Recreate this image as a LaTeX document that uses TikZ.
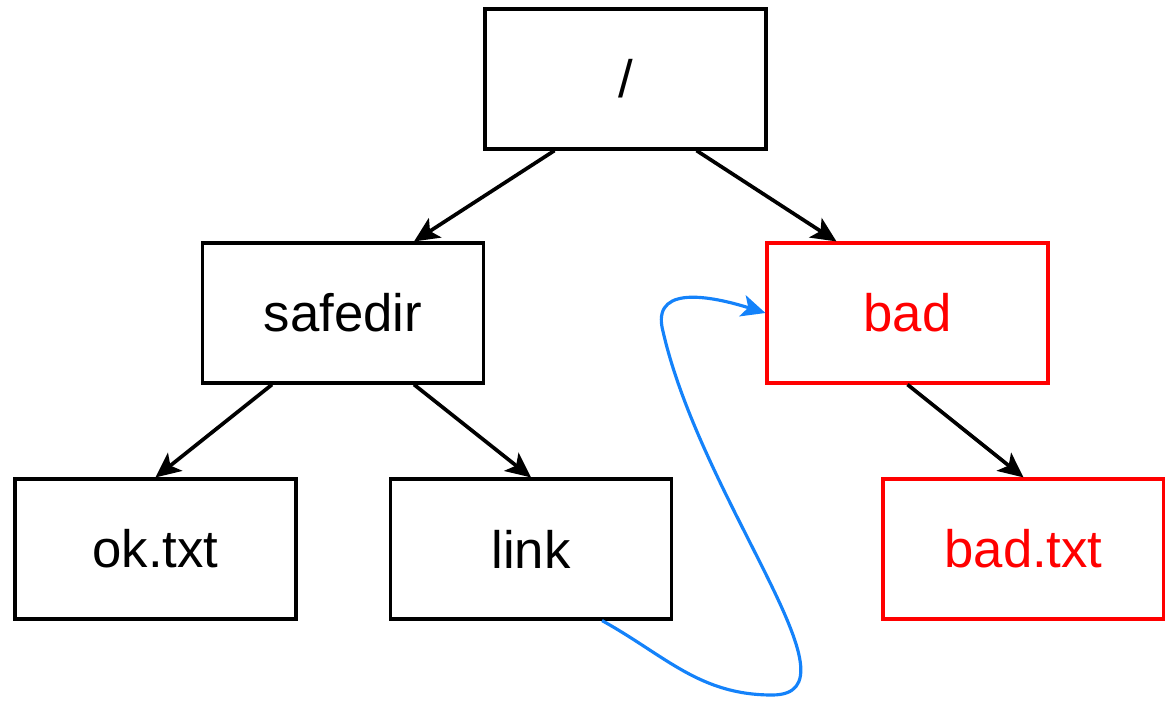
\documentclass[tikz,border=0pt]{standalone}
\usepackage{fontspec}
\setmainfont{Liberation Sans}
\usetikzlibrary{arrows.meta,calc}
\definecolor{linkblue}{RGB}{20,130,250}

\begin{document}
\begin{tikzpicture}[x=0.02cm, y=0.02cm,
    box/.style={draw, line width=1.8pt, minimum width=5.62cm, minimum height=2.8cm,
        inner sep=0pt, font=\fontsize{30}{36}\selectfont},
    badbox/.style={box, draw=red, text=red},
    edge/.style={line width=2.1pt, -{Stealth[length=0.5cm, width=0.46cm, inset=0.12cm]}}]
    \useasboundingbox (0,0) rectangle (1165,701);

    \node[box] (root) at (625.5,622) {/};
    \node[box] (safedir) at (343,388) {safedir};
    \node[badbox] (bad) at (907.5,388) {bad};
    \node[box] (oktxt) at (155.5,152) {ok.txt};
    \node[box] (link) at (531,152) {link};
    \node[badbox] (badtxt) at (1023.5,152) {bad.txt};

    \draw[edge] ($(root.south west)!.25!(root.south east)$) -- ($(safedir.north west)!.75!(safedir.north east)$);
    \draw[edge] ($(root.south west)!.75!(root.south east)$) -- ($(bad.north west)!.25!(bad.north east)$);
    \draw[edge] ($(safedir.south west)!.25!(safedir.south east)$) -- (oktxt.north);
    \draw[edge] ($(safedir.south west)!.75!(safedir.south east)$) -- (link.north);
    \draw[edge] (bad.south) -- (badtxt.north);

    % the symlink loops back up to bad
    \coordinate (loopbottom) at (772,6);
    \coordinate (loopleft) at (662,374);
    \draw[linkblue, line width=1.8pt, -{Stealth[length=0.48cm, width=0.44cm, inset=0.12cm]}]
        ($(link.south west)!.75!(link.south east)$) to[out=-29, in=180] (loopbottom)
        .. controls +(95,0) and +(38,-174) .. (loopleft)
        .. controls +(-8,44) and +(-48,15) .. (bad.west);
\end{tikzpicture}
\end{document}
